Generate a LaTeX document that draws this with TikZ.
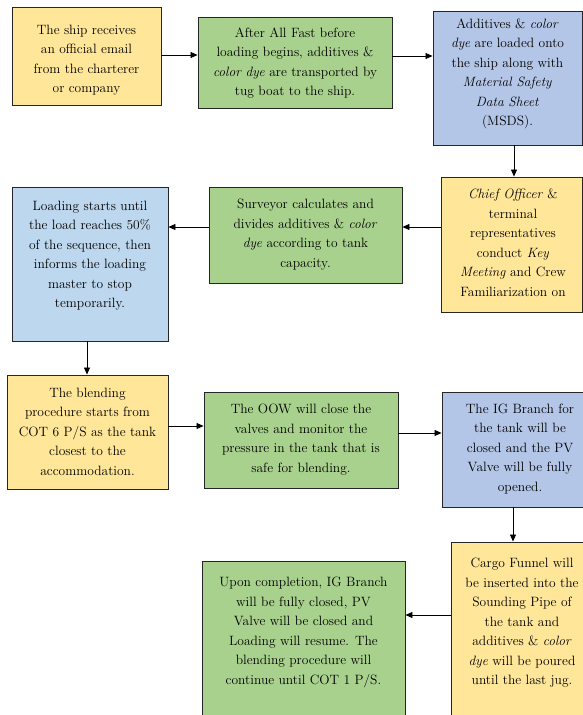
\documentclass[tikz,border=0pt]{standalone}
\usetikzlibrary{arrows.meta}
\definecolor{ybox}{HTML}{FFE699}
\definecolor{gbox}{HTML}{A9D18E}
\definecolor{bbox}{HTML}{B4C6E7}
\definecolor{lbbox}{HTML}{BDD7EE}
\tikzset{
  box/.style={draw=black!85, line width=0.9pt, inner sep=0pt},
  txt/.style={align=center, inner sep=0pt, text=black, font=\fontsize{13.5}{19.5}\selectfont},
  arr/.style={-{Triangle[length=7pt,width=6pt]}, line width=0.8pt, draw=black}
}
\begin{document}
\begin{tikzpicture}[x=1pt,y=-1pt]
\useasboundingbox[fill=white] (0,0) rectangle (583,715);
\clip (0,0) rectangle (583,715);
% boxes
\node[box, fill=ybox, minimum width=149, minimum height=98] (b1) at (86.5,56) {};
\node[box, fill=gbox, minimum width=194, minimum height=91] (b2) at (295,62.5) {};
\node[box, fill=bbox, minimum width=149, minimum height=134] (b3) at (507.5,78) {};
\node[box, fill=ybox, minimum width=141, minimum height=135] (b4) at (511.5,244.5) {};
\node[box, fill=gbox, minimum width=193, minimum height=96] (b5) at (305.5,235) {};
\node[box, fill=lbbox, minimum width=156, minimum height=154] (b6) at (90,264) {};
\node[box, fill=ybox, minimum width=161, minimum height=114] (b7) at (87.5,432) {};
\node[box, fill=gbox, minimum width=194, minimum height=96] (b8) at (301,440) {};
\node[box, fill=bbox, minimum width=156, minimum height=115] (b9) at (520,449.5) {};
\node[box, fill=ybox, minimum width=144, minimum height=198] (b10) at (523,641) {};
\node[box, fill=gbox, minimum width=203, minimum height=179] (b11) at (303.5,650.5) {};
% texts
\node[txt] (t1) at (86.5,60) {The ship receives\\an official email\\from the charterer\\or company};
\node[txt] (t2) at (295,63) {After All Fast before\\loading begins, additives \&\\\textit{color dye} are transported by\\tug boat to the ship.};
\node[txt] (t3) at (507.5,74) {Additives \& \textit{color}\\\textit{dye} are loaded onto\\the ship along with\\\textit{Material Safety}\\\textit{Data Sheet}\\(MSDS).};
\node[txt] (t4) at (513,242.5) {\textit{Chief Officer} \&\\terminal\\representatives\\conduct \textit{Key}\\\textit{Meeting} and Crew\\Familiarization on};
\node[txt] (t5) at (305.5,234.5) {Surveyor calculates and\\divides additives \& \textit{color}\\\textit{dye} according to tank\\capacity.};
\node[txt] (t6) at (90,255.5) {Loading starts until\\the load reaches 50\%\\of the sequence, then\\informs the loading\\master to stop\\temporarily.};
\node[txt] (t7) at (87.5,431.5) {The blending\\procedure starts from\\COT 6 P/S as the tank\\closest to the\\accommodation.};
\node[txt] (t8) at (301,439.5) {The OOW will close the\\valves and monitor the\\pressure in the tank that is\\safe for blending.};
\node[txt] (t9) at (520,449) {The IG Branch for\\the tank will be\\closed and the PV\\Valve will be fully\\opened.};
\node[txt] (t10) at (522,623) {Cargo Funnel will\\be inserted into the\\Sounding Pipe of\\the tank and\\additives \& \textit{color}\\\textit{dye} will be poured\\until the last jug.};
\node[txt] (t11) at (303.5,632.5) {Upon completion, IG Branch\\will be fully closed, PV\\Valve will be closed and\\Loading will resume. The\\blending procedure will\\continue until COT 1 P/S.};
% connectors
\draw[arr] (b1.east |- 0,55) -- (b2.west |- 0,55);
\draw[arr] (b2.east |- 0,56) -- (b3.west |- 0,56);
\draw[arr] (b3.south -| 514,0) -- (b4.north -| 514,0);
\draw[arr] (b4.west |- 0,227) -- (b5.east |- 0,227);
\draw[arr] (b5.west |- 0,227) -- (b6.east |- 0,227);
\draw[arr] (b6.south -| 87,0) -- (b7.north -| 87,0);
\draw[arr] (b7.east |- 0,426) -- (b8.west |- 0,426);
\draw[arr] (b8.east |- 0,433) -- (b9.west |- 0,433);
\draw[arr] (b9.south -| 513,0) -- (b10.north -| 513,0);
\draw[arr] (b10.west |- 0,615) -- (b11.east |- 0,615);
\end{tikzpicture}
\end{document}
